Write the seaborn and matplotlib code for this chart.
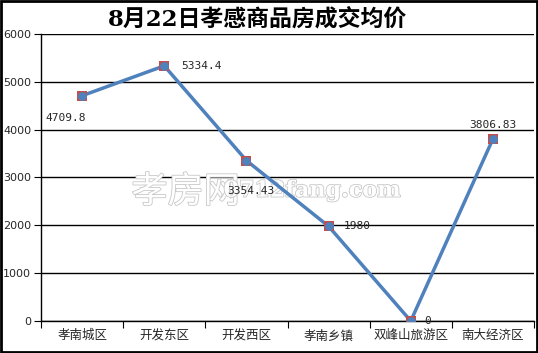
import numpy as np
import pandas as pd
import matplotlib
matplotlib.use("Agg")
import matplotlib.pyplot as plt
import matplotlib.patheffects as pe
import seaborn as sns
from matplotlib.patches import Rectangle

sns.set_style("white")
plt.rcParams['font.family'] = ['DejaVu Sans', 'Noto Sans CJK SC']

districts = ["孝南城区", "开发东区", "开发西区", "孝南乡镇", "双峰山旅游区", "南大经济区"]
prices = [4709.8, 5334.4, 3354.43, 1980, 0, 3806.83]
price_labels = ["4709.8", "5334.4", "3354.43", "1980", "0", "3806.83"]
yticks = [0, 1000, 2000, 3000, 4000, 5000, 6000]

df = pd.DataFrame({"x": np.arange(len(districts)), "price": prices})

fig = plt.figure(figsize=(5.38, 3.53), dpi=100)
ax = fig.add_axes([0.0762, 0.0907, 0.9164, 0.813])

# watermark (outlined gray text), drawn inside the axes below the line and labels
outline = [pe.withStroke(linewidth=1.2, foreground="#c8c8c8")]
ax.text(0.345, 0.455, "孝房网", fontsize=26, color="white",
        ha="center", va="center", family=["Noto Sans CJK SC"], zorder=1,
        transform=fig.transFigure, path_effects=outline)
ax.text(0.58, 0.46, "0712fang.com", fontsize=16, color="white", fontweight="bold",
        ha="center", va="center", family=["DejaVu Serif"], zorder=1,
        transform=fig.transFigure, path_effects=outline)

sns.lineplot(data=df, x="x", y="price", ax=ax, color="#4f81bd", linewidth=2.5, zorder=3)
ax.scatter(df["x"], df["price"], marker="s", s=60, color="#c0504d", zorder=4, linewidths=0)
ax.scatter(df["x"], df["price"], marker="o", s=40, color="#4f81bd", zorder=5, linewidths=0)

ax.set_xlim(-0.5, len(districts) - 0.5)
ax.set_ylim(0, 6000)
ax.set_yticks(yticks)
ax.set_yticklabels([str(v) for v in yticks], fontsize=8)
ax.set_xticks(np.arange(-0.5, len(districts)), minor=False)
ax.set_xticklabels([])
ax.set_xticks(np.arange(len(districts)), minor=True)
ax.set_xticklabels(districts, minor=True, fontsize=9, family=["Noto Sans CJK SC"])
ax.tick_params(axis="x", which="minor", length=0, pad=6)
ax.tick_params(axis="x", which="major", length=5, direction="out", color="black", bottom=True)
ax.tick_params(axis="y", length=5, direction="out", color="black", left=True, pad=2)
ax.set_xlabel("")
ax.set_ylabel("")
ax.yaxis.grid(True, color="black", linewidth=1)
ax.set_axisbelow(True)
for side in ["top", "right"]:
    ax.spines[side].set_visible(False)
for side in ["left", "bottom"]:
    ax.spines[side].set_color("black")
    ax.spines[side].set_linewidth(1)
ax.patch.set_alpha(0)

offsets = [(-11.5, -16), (12, 0), (3, -22), (11, 0), (10, 0), (0, 10)]
aligns = [("center", "center"), ("left", "center"), ("center", "center"),
          ("left", "center"), ("left", "center"), ("center", "center")]
for i, (lab, off, al) in enumerate(zip(price_labels, offsets, aligns)):
    ax.annotate(lab, (i, prices[i]), xytext=off, textcoords="offset points",
                ha=al[0], va=al[1], fontsize=8, family=["DejaVu Sans Mono"], zorder=6)

fig.text(0.478, 0.945, "8月22日孝感商品房成交均价", fontsize=16.5, fontweight="bold",
         color="black", ha="center", va="center",
         family=["DejaVu Serif", "Noto Sans CJK SC"])

fig.patches.append(Rectangle((0.002, 0.003), 0.996, 0.994, transform=fig.transFigure,
                             fill=False, edgecolor="black", linewidth=2))

fig.savefig("out.png", dpi=100)
